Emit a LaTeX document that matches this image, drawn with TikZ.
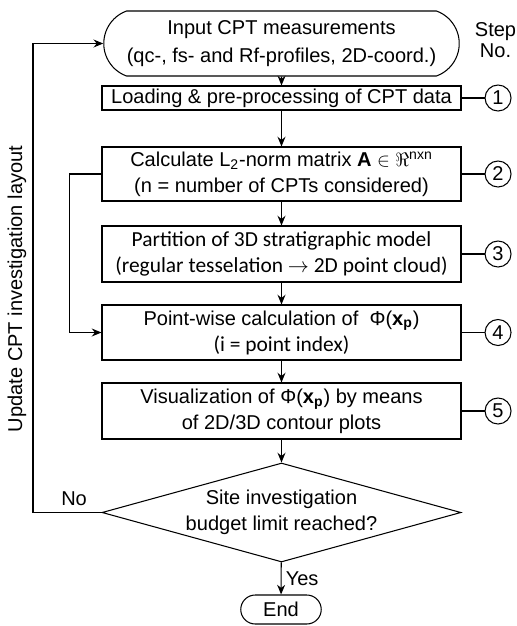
\documentclass[tikz,border=0pt]{standalone}
\usepackage{fontspec}
\setmainfont{Liberation Sans}
\newfontfamily\carlito{Carlito}
\usepackage{tikz}
\usetikzlibrary{arrows.meta,positioning,shapes.geometric,shapes.misc}

\newcommand{\phix}{Φ(\textbf{x}\textsubscript{\textbf{p}})}

\begin{document}
\begin{tikzpicture}[
    font=\fontsize{11.4}{14.8}\selectfont,
    bx/.style={draw,line width=0.6pt,minimum width=7.18cm,
      align=center,inner sep=1pt},
    tm/.style={draw,line width=0.6pt,rounded rectangle,
      align=center,inner sep=1pt},
    dc/.style={draw,line width=0.6pt,diamond,aspect=3.6,
      minimum width=7.18cm,minimum height=1.98cm,inner sep=0pt,align=center},
    nr/.style={draw,line width=0.6pt,circle,minimum size=0.52cm,inner sep=0pt},
    ar/.style={-{Stealth[length=5.5pt,width=4.5pt]},line width=0.6pt},
    ln/.style={line width=0.6pt},
  ]
    \useasboundingbox (0,0) rectangle (10.32,-12.52);

    \node[tm,rounded rectangle arc length=140,minimum width=7.18cm,minimum height=1.3cm,
      font=\fontsize{11.4}{16}\selectfont] (inp) at (5.63,-0.87)
      {Input CPT measurements\\(qc-, fs- and Rf-profiles, 2D-coord.)};
    \node[bx,minimum height=0.48cm] (b1) at (5.63,-1.96)
      {Loading \& pre-processing of CPT data};
    \node[bx,minimum height=1.08cm] (b2) at (5.63,-3.48)
      {Calculate L\textsubscript{2}-norm matrix \textbf{A} $\in\Re$\textsuperscript{nxn}\\
       (n = number of CPTs considered)};
    \node[bx,minimum height=1.12cm,font=\carlito\fontsize{12.2}{14.8}\selectfont]
      (b3) at (5.63,-5.08)
      {Partition of 3D stratigraphic model\\
       (regular tesselation $\rightarrow$ 2D point cloud)};
    \node[bx,minimum height=1.1cm] (b4) at (5.63,-6.65)
      {Point-wise calculation of \ \phix\\
       {\carlito\fontsize{12.2}{14.8}\selectfont (i = point index)}};
    \node[bx,minimum height=1.12cm] (b5) at (5.63,-8.22)
      {Visualization of \phix{} by means\\of 2D/3D contour plots};
    \node[dc] (dec) at (5.63,-10.25)
      {Site investigation\\budget limit reached?};
    \node[tm,minimum width=1.68cm,minimum height=0.58cm] (end) at (5.62,-12.19) {End};

    % step numbers
    \node[align=center,font=\fontsize{11.4}{12.4}\selectfont] (stp) at (9.91,-0.8) {Step\\No.};
    \foreach \i in {1,...,5}{
      \node[nr,right=0.46cm of b\i] (n\i) {\i};
      \draw[ln] (b\i) -- (n\i);
    }

    \draw[ar] (inp) -- (b1);
    \draw[ar] (b1) -- (b2);
    \draw[ar] (b2) -- (b3);
    \draw[ar] (b3) -- (b4);
    \draw[ar] (b4) -- (b5);
    \draw[ar] (b5) -- (dec);
    \draw[ar] (dec) -- node[right,xshift=-1pt]{Yes} (end);

    % loops back
    \draw[ar] (b2.west) -- ++(-0.64,0) |- (b4.west);
    \draw[ar] (dec.west) -- node[above,pos=0.4]{No} ++(-1.37,0) |- (inp.west);
    \node[rotate=90] (upd) at (0.34,-5.78) {Update CPT investigation layout};
  \end{tikzpicture}
\end{document}
